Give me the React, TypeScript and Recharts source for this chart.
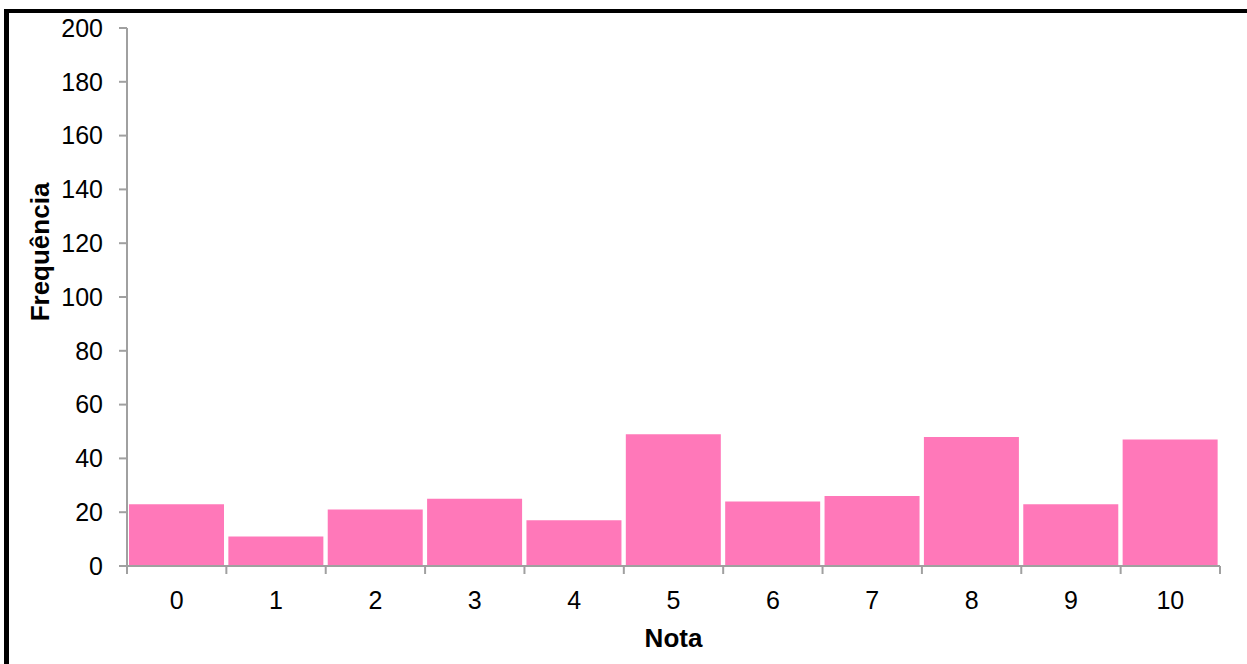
import { Bar, BarChart, Label, XAxis, YAxis } from 'recharts';

// Grade distribution: how many students got each final mark.
const notas = ['0', '1', '2', '3', '4', '5', '6', '7', '8', '9', '10'];
const frequencias = [23, 11, 21, 25, 17, 49, 24, 26, 48, 23, 47];
const yTicks = [0, 20, 40, 60, 80, 100, 120, 140, 160, 180, 200];

const rows = notas.map((nota, i) => ({ nota, freq: frequencias[i] }));

const AXIS = '#a0a0a0';
const FONT = '"Liberation Sans", Arial, sans-serif';

// Excel-style category ticks: marks sit on the band edges, labels in the middle.
function NotaTick(props: any) {
  const { x, y, payload, index, visibleTicksCount } = props;
  const half = payload?.offset ?? (1220 - 127) / notas.length / 2;
  const last = index === visibleTicksCount - 1;
  return (
    <g>
      <line x1={x - half} x2={x - half} y1={y} y2={y + 8} stroke={AXIS} strokeWidth={2} />
      {last && (
        <line x1={x + half} x2={x + half} y1={y} y2={y + 8} stroke={AXIS} strokeWidth={2} />
      )}
      <text x={x} y={y + 43} textAnchor="middle" fontSize={25} fill="#000" fontFamily={FONT}>
        {payload.value}
      </text>
    </g>
  );
}

// Rotated y title, sitting a little above the middle of the axis.
function FreqTitle(props: any) {
  const { viewBox } = props;
  const cx = viewBox.x + 40;
  const cy = viewBox.y + viewBox.height / 2 - 45;
  return (
    <text
      x={cx}
      y={cy}
      transform={`rotate(-90, ${cx}, ${cy})`}
      textAnchor="middle"
      dominantBaseline="central"
      fontSize={26}
      fontWeight={700}
      fill="#000"
      fontFamily={FONT}
    >
      Frequência
    </text>
  );
}

export default function App() {
  return (
    <div
      style={{
        position: 'absolute',
        left: 0,
        top: 0,
        width: 1247,
        height: 664,
        background: '#fff',
        overflow: 'hidden',
        fontFamily: FONT,
      }}
    >
      <div
        style={{
          position: 'absolute',
          left: 4,
          top: 9,
          width: 1400,
          height: 800,
          borderLeft: '5px solid #000',
          borderTop: '4px solid #000',
        }}
      />
      <div style={{ position: 'absolute', left: 0, top: 0 }}>
        <BarChart
          width={1247}
          height={664}
          data={rows}
          margin={{ top: 28, right: 27, bottom: 0, left: 0 }}
          barCategoryGap={2}
        >
          <XAxis
            dataKey="nota"
            height={98}
            stroke={AXIS}
            strokeWidth={2}
            tickLine={false}
            tickSize={0}
            tickMargin={0}
            tick={<NotaTick />}
            interval={0}
          >
            <Label
              value="Nota"
              position="insideBottom"
              offset={17}
              style={{ fontSize: 26, fontWeight: 700, fill: '#000', fontFamily: FONT }}
            />
          </XAxis>
          <YAxis
            width={127}
            domain={[0, 200]}
            ticks={yTicks}
            interval={0}
            stroke={AXIS}
            strokeWidth={2}
            tickSize={8}
            tickMargin={16}
            tick={{ fontSize: 25, fill: '#000', fontFamily: FONT }}
          >
            <Label content={<FreqTitle />} />
          </YAxis>
          <Bar dataKey="freq" fill="#ff78b9" isAnimationActive={false} />
        </BarChart>
      </div>
    </div>
  );
}
